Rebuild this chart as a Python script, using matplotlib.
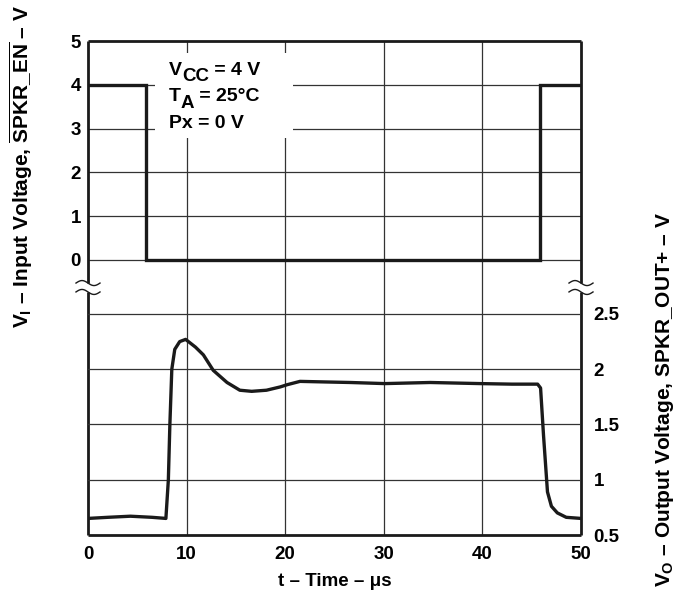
import numpy as np
import matplotlib
matplotlib.use("Agg")
from matplotlib import pyplot as plt
from matplotlib.patches import Rectangle

plt.rcParams['font.family'] = ['Liberation Sans', 'DejaVu Sans']
plt.rcParams['font.weight'] = 'bold'
plt.rcParams['mathtext.fontset'] = 'custom'
plt.rcParams['mathtext.rm'] = 'Liberation Sans:bold'
plt.rcParams['mathtext.it'] = 'Liberation Sans:bold'
plt.rcParams['mathtext.bf'] = 'Liberation Sans:bold'
plt.rcParams['mathtext.sf'] = 'Liberation Sans:bold'

# input (SPKR_EN) step
t_in = [0, 5.9, 5.9, 45.8, 45.8, 50]
v_in = [4, 4, 0, 0, 4, 4]

# output (SPKR_OUT+) response
t_out = [0, 2.0, 4.3, 6.5, 7.9, 8.15, 8.3, 8.5, 8.8, 9.3, 9.9, 10.9, 11.7, 12.7,
         14.1, 15.4, 16.6, 18.1, 19.5, 20.2, 21.5, 24.0, 26.6, 30.1, 34.7, 39.8,
         43.0, 45.6, 45.9, 46.2, 46.6, 47.0, 47.6, 48.5, 50]
v_out = [0.65, 0.66, 0.67, 0.66, 0.65, 1.0, 1.49, 2.0, 2.18, 2.25, 2.27, 2.2, 2.13, 1.99,
         1.88, 1.81, 1.80, 1.81, 1.84, 1.86, 1.89, 1.885, 1.88, 1.87, 1.88, 1.87,
         1.865, 1.865, 1.83, 1.4, 0.89, 0.76, 0.70, 0.66, 0.65]

x_ticks = [0, 10, 20, 30, 40, 50]
in_ticks = [0, 1, 2, 3, 4, 5]
out_ticks = [0.5, 1, 1.5, 2, 2.5]
out_labels = ['0.5', '1', '1.5', '2', '2.5']

# (main, subscript, rest) for the test conditions
cond = [('V', 'CC', ' = 4 V'), ('T', 'A', ' = 25°C'), ('Px = 0 V', '', '')]

fig = plt.figure(figsize=(6.77, 5.96), dpi=100)
ax = fig.add_axes([88 / 677, 61 / 596, 493 / 677, 494 / 596])
ax2 = ax.twinx()

ax.set_xlim(0, 50)
ax.set_ylim(-6.28, 5)
ax2.set_ylim(0.5, 4.97)

for a in (ax, ax2):
    for s in a.spines.values():
        s.set_visible(False)

ax.set_xticks(x_ticks)
ax.set_yticks(in_ticks)
ax2.set_yticks(out_ticks)
ax2.set_yticklabels(out_labels)
ax.tick_params(axis='x', length=0, pad=8, labelsize=13.5)
ax.tick_params(axis='y', length=0, pad=5, labelsize=13.5)
ax2.tick_params(axis='y', length=0, pad=9, labelsize=13.5)

grid_kw = dict(color='#333333', lw=0.9, zorder=1)
for t in x_ticks[1:-1]:
    ax.axvline(t, **grid_kw)
for v in in_ticks[:-1]:
    ax.axhline(v, **grid_kw)
for v in out_ticks[1:]:
    ax2.axhline(v, **grid_kw)

# frame with broken side spines
frame = dict(color='#1a1a1a', lw=2.0, transform=ax.transAxes, clip_on=False,
             solid_capstyle='butt', zorder=5)
ax.plot([0, 1], [1, 1], **frame)
ax.plot([0, 1], [0, 0], **frame)
brk_hi, brk_lo = 0.510, 0.492
sx = np.linspace(-1, 1, 40)
for xs in (0, 1):
    ax.plot([xs, xs], [brk_hi, 1], **frame)
    ax.plot([xs, xs], [0, brk_lo], **frame)
    for yb in (brk_hi, brk_lo):
        ax.plot(xs + sx * 12 / 493, yb - np.sin(sx * np.pi) * 2.5 / 494,
                color='#1a1a1a', lw=1.0, transform=ax.transAxes, clip_on=False, zorder=5)

ax.plot(t_in, v_in, color='#1a1a1a', lw=2.4, solid_joinstyle='miter', zorder=4)
ax2.plot(t_out, v_out, color='#1a1a1a', lw=2.4, zorder=4)

# conditions block
ax.add_patch(Rectangle((6.8, 2.79), 14.0, 1.94, facecolor='white', edgecolor='none', zorder=2))
for i, (main, sub, rest) in enumerate(cond):
    tm = ax.text(8.2, 4.22 - i * 0.6, main, fontsize=14, fontweight='bold',
                 va='baseline', ha='left', zorder=3)
    if sub:
        ts = ax.annotate(sub, xy=(1, 0), xycoords=tm, xytext=(0, -1.5),
                         textcoords='offset points', fontsize=13.5, fontweight='bold',
                         va='baseline', ha='left', zorder=3)
        ax.annotate(rest, xy=(1, 0), xycoords=(ts, tm), fontsize=14, fontweight='bold',
                    va='bottom', ha='left', zorder=3)

ax.set_xlabel('t – Time – μs', fontsize=13.5, fontweight='bold', labelpad=7)
fig.text(21 / 677, 1 - 166 / 596,
         r'$V_I$ – Input Voltage, $\overline{\mathrm{SPKR\_EN}}$ – V',
         rotation=90, fontsize=15, fontweight='bold', ha='center', va='center')
fig.text(664 / 677, 1 - 399 / 596, r'$V_O$ – Output Voltage, SPKR_OUT+ – V',
         rotation=90, fontsize=15, fontweight='bold', ha='center', va='center')

fig.savefig('out.png', dpi=100)
